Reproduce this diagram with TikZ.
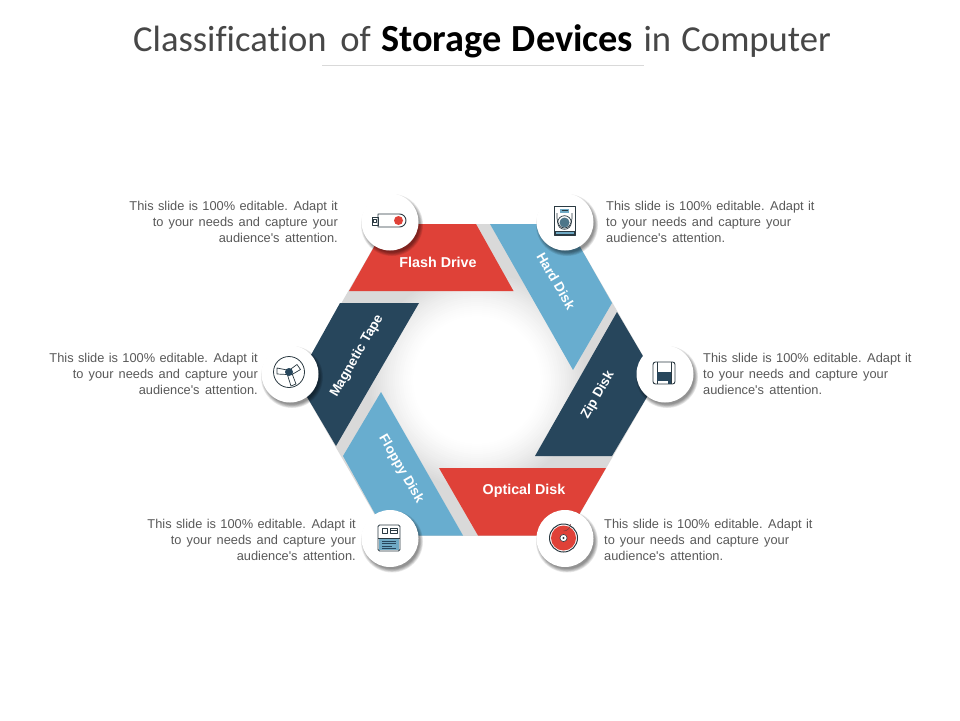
\documentclass[tikz,border=0pt]{standalone}
\usepackage{fontspec}
\setmainfont[Ligatures=TeXOff]{Liberation Sans}
\newfontfamily\titlefont[Ligatures=NoCommon]{Carlito}
\definecolor{cred}{HTML}{DF4138}
\definecolor{cblue}{HTML}{68ADCF}
\definecolor{cnavy}{HTML}{27465C}
\definecolor{cgray}{HTML}{D9D9D9}
\definecolor{ctext}{HTML}{595959}
\definecolor{cicon}{HTML}{2B3A42}
\definecolor{cteal}{HTML}{6FA9C4}
\tikzset{
  x=1pt,y=-1pt,
  seglabel/.style={text=white,font=\fontsize{14.3}{16}\selectfont\bfseries,inner sep=0pt},
  rotlabel/.style={text=white,font=\fontsize{13.5}{16}\selectfont\bfseries,inner sep=0pt},
  descl/.style={text=ctext,font=\fontsize{12.8}{16}\selectfont,align=right,anchor=east,inner sep=0pt},
  descr/.style={text=ctext,font=\fontsize{12.8}{16}\selectfont,align=left,anchor=west,inner sep=0pt},
  disc/.style={circle,fill=white,minimum size=57pt,inner sep=0pt},
  ic/.style={draw=cicon,line width=0.9pt,line join=round},
  shadowdisc/.pic={
    \foreach \r in {31,30.3,29.6,28.9,28.2,27.5}{\fill[black,opacity=.085] (2,3) circle (\r pt);}
  }
}
\begin{document}
\begin{tikzpicture}
\useasboundingbox (0,0) rectangle (960,720);
\fill[white] (0,0) rectangle (960,720);
% title
\node[font=\titlefont\fontsize{36.6}{40}\selectfont,text=black!72,inner sep=0pt] (title) at (482,41)
  {\spaceskip=10.3pt\relax Classification\hspace{3.5pt} of {\fontsize{38.3}{40}\selectfont\bfseries\color{black}Storage Devices} in Computer};
\draw[cgray,line width=.7pt] (322,65.5) -- (644,65.5);
% backdrop
\begin{scope}
  \clip (387,224) -- (567,224) -- (657,380) -- (567,536) -- (387,536) -- (297,380) -- cycle;
  \fill[cgray] (297,224) rectangle (657,536);
  \foreach \r in {110,108,...,64}{
    \pgfmathsetmacro{\pc}{100*((\r-64)/46)^1.3}
    \fill[cgray!\pc!white] (477,380) circle (\r pt);
  }
\end{scope}
% segments
\fill[cred] (387,224) -- (476,224) -- (513.5,291) -- (349,291) -- cycle;
\fill[cblue] (490,224) -- (567,224) -- (612,303) -- (573,370) -- cycle;
\fill[cnavy] (617,312) -- (657,380) -- (612,456) -- (535,456) -- cycle;
\fill[cred] (439,468) -- (606,468) -- (567,535.5) -- (478,535.5) -- cycle;
\fill[cblue] (381,392) -- (343,456) -- (387,535.5) -- (463,535.5) -- cycle;
\fill[cnavy] (340,303) -- (419,303) -- (336,446) -- (297,380) -- cycle;
% segment labels
\node[seglabel] (lflash) at (438,262) {Flash Drive};
\node[rotlabel,rotate=-60] (lhard) at (556,281) {Hard Disk};
\node[rotlabel,rotate=60] (lzip) at (598,395) {Zip Disk};
\node[seglabel] (lopt) at (524,491) {Optical Disk};
\node[rotlabel,rotate=-60] (lfloppy) at (401,469) {Floppy Disk};
\node[rotlabel,rotate=60] (lmag) at (357,356) {Magnetic Tape};
% discs
\pic at (390,222) {shadowdisc};
\pic at (565,222) {shadowdisc};
\pic at (290,374) {shadowdisc};
\pic at (665,374) {shadowdisc};
\pic at (390,538.5) {shadowdisc};
\pic at (565,538.5) {shadowdisc};
\node[disc] (dflash) at (390,222) {};
\node[disc] (dhard) at (565,222) {};
\node[disc] (dmag) at (290,374) {};
\node[disc] (dzip) at (665,374) {};
\node[disc] (dfloppy) at (390,538.5) {};
\node[disc] (dopt) at (565,538.5) {};
% flash drive icon
\draw[ic] (372,217) rectangle (378,225);
\draw[ic,line width=.6pt] (373.5,219.5) rectangle (376.5,222.5);
\draw[ic] (378,214) -- (399.5,214) arc (-90:90:6.5) -- (378,227) -- cycle;
\fill[cred] (398.5,220.5) circle (4.5pt);
% hard disk icon
\draw[ic] (554,206.5) rectangle (575,235);
\fill[cicon] (554,230.5) rectangle (575,235);
\fill[cteal] (555.5,231.5) rectangle (573.5,233.5);
\fill[cteal] (560,209) rectangle (569,213);
\draw[cicon,line width=.8pt] (561.5,210.5) -- (567.5,210.5);
\draw[ic,line width=.7pt] (557,213) -- (557,218) arc (180:0:7.5 and 10) -- (572,213);
\fill[cteal!70!black] (564.5,222.5) circle (5pt);
\draw[ic,line width=.7pt] (564.5,222.5) circle (6.8pt);
% magnetic tape icon
\draw[ic,line width=.8pt] (289,372) circle (15.5pt);
\draw[ic,line width=.7pt] (277,368) -- (287,370) -- (287,374.5) -- (277,374) -- cycle;
\draw[ic,line width=.7pt] (297,364.5) -- (300.5,369.5) -- (292,374.5) -- (289.5,370) -- cycle;
\draw[ic,line width=.7pt] (287.5,375) -- (292,373.5) -- (296,384) -- (291,386) -- cycle;
\fill[cnavy] (289,372) circle (4pt);
% zip disk icon
\draw[ic,rounded corners=2.5pt] (653,362) rectangle (675,384);
\draw[ic] (657,362) -- (657,384) (671,362) -- (671,384);
\fill[cnavy] (657,372) rectangle (671,381);
\fill[cnavy] (668,381) rectangle (671,384);
% floppy disk icon
\draw[ic,rounded corners=1.5pt] (378,525) rectangle (400,551);
\fill[cteal] (379,538) rectangle (399,550);
\draw[ic,line width=.7pt] (378,538) -- (400,538);
\draw[ic,line width=.7pt] (382,528) rectangle (387,533);
\draw[ic,line width=.7pt] (390,528) rectangle (397,533);
\draw[ic,line width=.7pt] (390,530.5) -- (397,530.5);
\foreach \yy/\xe in {541/396,543.5/396,546/392,548/396}{
  \draw[cnavy,line width=.8pt] (382,\yy) -- (\xe,\yy);
}
% optical disk icon
\draw[ic,line width=1pt] (563.5,538) circle (14pt);
\fill[cred] (563.5,538) circle (12.5pt);
\draw[cicon!60!cred,line width=.5pt] (563.5,531) arc (-90:0:7pt);
\fill[white] (563.5,538) circle (3.6pt);
\draw[ic,line width=.6pt] (563.5,538) circle (3.6pt);
\fill[cicon] (563.5,538) circle (1.2pt);
% descriptions
\def\ltext{{\spaceskip=4.4pt\relax This slide is 100\% editable. Adapt it}\\{\spaceskip=5.1pt\relax to your needs and capture your}\\{\spaceskip=5.5pt\relax audience's attention.}}
\node[descl] (tflash) at (338,221.7) {\ltext};
\node[descr] (thard) at (606,221.7) {\ltext};
\node[descl] (tmag) at (258,373.7) {\ltext};
\node[descr] (tzip) at (703,373.7) {\ltext};
\node[descl] (tfloppy) at (356,539.7) {\ltext};
\node[descr] (topt) at (604,539.7) {\ltext};
\end{tikzpicture}
\end{document}
